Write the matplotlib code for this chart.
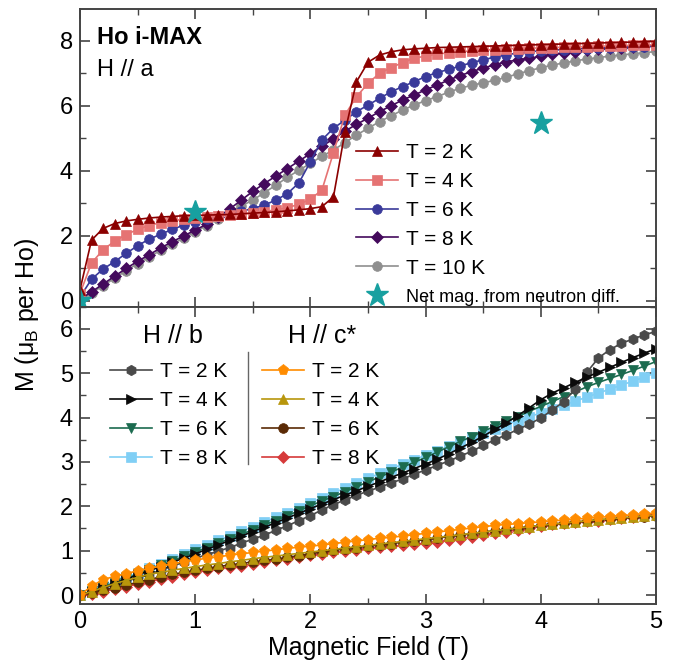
import numpy as np
import matplotlib
matplotlib.use('Agg')
import matplotlib.pyplot as plt
from matplotlib.ticker import MultipleLocator

plt.rcParams['font.family'] = ['Liberation Sans', 'DejaVu Sans']
plt.rcParams['mathtext.fontset'] = 'custom'
plt.rcParams['mathtext.rm'] = 'Liberation Sans'
plt.rcParams['mathtext.it'] = 'Liberation Sans:italic'

# field sweep grid (T)
field = np.linspace(0, 5, 51)

# H // a  (top panel)
a_2K = [0.35, 1.87, 2.23, 2.38, 2.46, 2.51, 2.55, 2.58, 2.60, 2.62, 2.63,
        2.64, 2.65, 2.66, 2.68, 2.70, 2.72, 2.74, 2.77, 2.80, 2.84,
        2.90, 3.20, 5.20, 6.74, 7.34, 7.56, 7.66, 7.72, 7.75, 7.77,
        7.79, 7.80, 7.81, 7.82, 7.83, 7.84, 7.85, 7.86, 7.87, 7.88,
        7.89, 7.90, 7.91, 7.92, 7.93, 7.94, 7.95, 7.96, 7.97, 7.98]
a_4K = [0.23, 1.17, 1.57, 1.84, 2.04, 2.20, 2.32, 2.41, 2.47, 2.51, 2.55,
        2.58, 2.61, 2.64, 2.67, 2.71, 2.75, 2.80, 2.87, 2.97, 3.13,
        3.41, 4.56, 5.72, 6.28, 6.69, 7.00, 7.17, 7.33, 7.46, 7.53,
        7.59, 7.63, 7.66, 7.69, 7.71, 7.73, 7.75, 7.76, 7.77, 7.78,
        7.79, 7.80, 7.81, 7.82, 7.83, 7.84, 7.85, 7.86, 7.87, 7.88]
a_6K = [0.12, 0.67, 0.98, 1.21, 1.46, 1.70, 1.90, 2.05, 2.20, 2.33, 2.43,
        2.53, 2.60, 2.66, 2.76, 2.84, 2.95, 3.10, 3.30, 3.63, 4.28,
        4.95, 5.31, 5.56, 5.82, 6.02, 6.23, 6.43, 6.59, 6.74, 6.90,
        7.02, 7.12, 7.22, 7.33, 7.41, 7.50, 7.57, 7.62, 7.66, 7.69,
        7.71, 7.73, 7.75, 7.76, 7.78, 7.79, 7.80, 7.81, 7.82, 7.83]
a_8K = [0.05, 0.28, 0.52, 0.76, 1.00, 1.22, 1.42, 1.63, 1.82, 2.00, 2.18,
        2.36, 2.58, 2.83, 3.10, 3.37, 3.61, 3.84, 4.07, 4.30, 4.53,
        4.76, 4.98, 5.22, 5.43, 5.62, 5.82, 6.00, 6.18, 6.33, 6.49,
        6.64, 6.79, 6.93, 7.05, 7.16, 7.26, 7.35, 7.41, 7.46, 7.52,
        7.58, 7.63, 7.66, 7.71, 7.74, 7.77, 7.79, 7.81, 7.83, 7.85]
a_10K = [0.00, 0.24, 0.47, 0.70, 0.93, 1.15, 1.35, 1.56, 1.75, 1.93, 2.12,
         2.32, 2.53, 2.74, 2.92, 3.10, 3.33, 3.56, 3.80, 4.02, 4.23,
         4.45, 4.64, 4.87, 5.10, 5.31, 5.51, 5.69, 5.87, 6.02, 6.16,
         6.28, 6.42, 6.54, 6.63, 6.71, 6.78, 6.88, 6.98, 7.08, 7.17,
         7.25, 7.32, 7.38, 7.44, 7.48, 7.53, 7.56, 7.60, 7.63, 7.67]
neutron_field = [0, 1, 4]
neutron_mag = [0.0, 2.72, 5.48]

# H // b  (bottom panel)
b_2K = [0.00, 0.07, 0.15, 0.23, 0.31, 0.39, 0.47, 0.56, 0.65, 0.74, 0.83,
        0.91, 0.99, 1.07, 1.17, 1.26, 1.35, 1.46, 1.56, 1.68, 1.79,
        1.92, 2.04, 2.14, 2.25, 2.34, 2.43, 2.52, 2.62, 2.72, 2.82,
        2.92, 3.02, 3.13, 3.24, 3.37, 3.50, 3.61, 3.73, 3.85, 3.99,
        4.17, 4.36, 4.64, 5.02, 5.34, 5.53, 5.67, 5.77, 5.86, 5.94]
b_4K = [0.00, 0.08, 0.17, 0.26, 0.36, 0.45, 0.55, 0.64, 0.74, 0.83, 0.93,
        1.03, 1.13, 1.23, 1.33, 1.43, 1.53, 1.63, 1.74, 1.84, 1.95,
        2.05, 2.15, 2.25, 2.35, 2.45, 2.55, 2.65, 2.75, 2.85, 2.95,
        3.06, 3.18, 3.31, 3.44, 3.58, 3.73, 3.88, 4.04, 4.22, 4.40,
        4.55, 4.67, 4.79, 4.91, 5.02, 5.13, 5.24, 5.35, 5.45, 5.55]
b_6K = [0.00, 0.09, 0.18, 0.28, 0.38, 0.47, 0.57, 0.67, 0.77, 0.87, 0.97,
        1.07, 1.17, 1.27, 1.37, 1.47, 1.58, 1.68, 1.79, 1.90, 2.01,
        2.12, 2.22, 2.33, 2.44, 2.55, 2.66, 2.77, 2.88, 2.99, 3.10,
        3.22, 3.34, 3.46, 3.57, 3.69, 3.80, 3.91, 4.02, 4.14, 4.25,
        4.36, 4.47, 4.58, 4.69, 4.79, 4.88, 4.97, 5.06, 5.16, 5.26]
b_8K = [0.00, 0.10, 0.20, 0.30, 0.40, 0.50, 0.60, 0.70, 0.81, 0.92, 1.03,
        1.13, 1.23, 1.33, 1.44, 1.54, 1.65, 1.75, 1.86, 1.97, 2.08,
        2.19, 2.30, 2.41, 2.52, 2.63, 2.74, 2.84, 2.95, 3.05, 3.15,
        3.25, 3.35, 3.45, 3.55, 3.65, 3.75, 3.84, 3.93, 4.02, 4.10,
        4.19, 4.28, 4.37, 4.46, 4.55, 4.64, 4.73, 4.82, 4.91, 5.01]

# H // c*  (bottom panel)
c_2K = [0.00, 0.20, 0.35, 0.42, 0.48, 0.55, 0.60, 0.65, 0.70, 0.75, 0.79,
        0.83, 0.86, 0.90, 0.93, 0.96, 0.99, 1.02, 1.05, 1.08, 1.10,
        1.13, 1.16, 1.19, 1.22, 1.25, 1.28, 1.30, 1.33, 1.36, 1.39,
        1.42, 1.45, 1.48, 1.51, 1.54, 1.57, 1.59, 1.61, 1.63, 1.65,
        1.67, 1.69, 1.71, 1.73, 1.75, 1.77, 1.79, 1.81, 1.83, 1.85]
c_4K = [0.00, 0.08, 0.17, 0.26, 0.33, 0.40, 0.47, 0.51, 0.56, 0.60, 0.64,
        0.68, 0.71, 0.75, 0.78, 0.82, 0.85, 0.88, 0.91, 0.94, 0.97,
        1.00, 1.03, 1.06, 1.09, 1.12, 1.15, 1.18, 1.21, 1.24, 1.27,
        1.30, 1.33, 1.36, 1.39, 1.42, 1.45, 1.48, 1.51, 1.54, 1.57,
        1.60, 1.62, 1.65, 1.67, 1.70, 1.72, 1.74, 1.76, 1.78, 1.80]
c_6K = [0.00, 0.05, 0.11, 0.17, 0.22, 0.29, 0.35, 0.41, 0.47, 0.51, 0.56,
        0.60, 0.64, 0.68, 0.71, 0.75, 0.78, 0.81, 0.85, 0.89, 0.93,
        0.97, 1.01, 1.04, 1.07, 1.10, 1.13, 1.16, 1.19, 1.22, 1.25,
        1.28, 1.32, 1.35, 1.38, 1.42, 1.45, 1.48, 1.51, 1.54, 1.57,
        1.60, 1.62, 1.64, 1.67, 1.69, 1.71, 1.73, 1.75, 1.77, 1.79]
c_8K = [0.00, 0.02, 0.08, 0.13, 0.19, 0.25, 0.30, 0.36, 0.41, 0.47, 0.52,
        0.56, 0.60, 0.63, 0.66, 0.70, 0.74, 0.78, 0.82, 0.86, 0.90,
        0.93, 0.96, 0.99, 1.02, 1.05, 1.08, 1.10, 1.12, 1.14, 1.17,
        1.20, 1.23, 1.27, 1.31, 1.35, 1.39, 1.43, 1.47, 1.51, 1.55,
        1.59, 1.62, 1.64, 1.66, 1.68, 1.71, 1.73, 1.76, 1.79, 1.82]

x_ticks = [0, 1, 2, 3, 4, 5]
temp_labels = ['T = 2 K', 'T = 4 K', 'T = 6 K', 'T = 8 K', 'T = 10 K']

SPINE = '#444444'


def curve(ax, y, color, marker, label, ms=7):
    """One M(H) sweep: line with filled markers."""
    line, = ax.plot(field, y, color=color, marker=marker, ms=ms, lw=1.2,
                    mec=color, mew=0.5, label=label)
    return line


def style_axes(ax, ymajor, yminor):
    ax.set_xlim(0, 5)
    ax.xaxis.set_major_locator(MultipleLocator(1))
    ax.xaxis.set_minor_locator(MultipleLocator(0.5))
    ax.yaxis.set_major_locator(MultipleLocator(ymajor))
    ax.yaxis.set_minor_locator(MultipleLocator(yminor))
    ax.tick_params(which='both', direction='in', top=True, right=True,
                   color=SPINE, labelsize=17, pad=5)
    ax.tick_params(which='major', length=7, width=1.2)
    ax.tick_params(which='minor', length=4, width=1.0)
    for s in ax.spines.values():
        s.set_color(SPINE)
        s.set_linewidth(1.4)


fig = plt.figure(figsize=(6.77, 6.71), dpi=100)
ax1 = fig.add_axes([0.1182, 0.5432, 0.8508, 0.4436])
ax2 = fig.add_axes([0.1182, 0.0999, 0.8508, 0.4433])

# ---- top panel: H // a
h10 = curve(ax1, a_10K, '#8f8f8f', 'o', temp_labels[4])
h8 = curve(ax1, a_8K, '#440a5c', 'D', temp_labels[3], ms=6.5)
h6 = curve(ax1, a_6K, '#3a3a9a', 'o', temp_labels[2])
h4 = curve(ax1, a_4K, '#e57373', 's', temp_labels[1], ms=6.5)
h2 = curve(ax1, a_2K, '#8b0000', '^', temp_labels[0], ms=7.5)
hn, = ax1.plot(neutron_field, neutron_mag, ls='none', marker='*', ms=17,
               color='#17a0a0', mec='#17a0a0', label='Net mag. from neutron diff.')

style_axes(ax1, 2, 1)
ax1.set_ylim(-0.17, 8.98)
ax1.tick_params(labelbottom=False)

ax1.text(0.03, 0.905, 'Ho i-MAX', transform=ax1.transAxes, fontsize=17,
         fontweight='bold', va='center', ha='left')
ax1.text(0.03, 0.795, 'H // a', transform=ax1.transAxes, fontsize=17,
         va='center', ha='left')

leg1 = ax1.legend(handles=[h2, h4, h6, h8, h10, hn], loc='upper left',
                  bbox_to_anchor=(0.48, 0.548), frameon=False, fontsize=15,
                  handlelength=2.0, handletextpad=0.4, labelspacing=0.47,
                  borderpad=0, borderaxespad=0)
leg1.get_texts()[5].set_fontsize(13)

# ---- bottom panel: H // b and H // c*
g8 = curve(ax2, b_8K, '#80cff5', 's', 'T = 8 K', ms=6.5)
g6 = curve(ax2, b_6K, '#1b6b4f', 'v', 'T = 6 K', ms=7.5)
g2 = curve(ax2, b_2K, '#4a4a4a', 'h', 'T = 2 K', ms=7.5)
g4 = curve(ax2, b_4K, '#0a0a0a', '>', 'T = 4 K', ms=7)

c8 = curve(ax2, c_8K, '#d63a3a', 'D', 'T = 8 K', ms=6.5)
c6 = curve(ax2, c_6K, '#5a2a05', 'o', 'T = 6 K', ms=7)
c4 = curve(ax2, c_4K, '#b8960c', '^', 'T = 4 K', ms=7.5)
c2 = curve(ax2, c_2K, '#ff8c00', 'p', 'T = 2 K', ms=8)

style_axes(ax2, 1, 0.5)
ax2.set_ylim(-0.2, 6.5)
ax2.set_xticks(x_ticks)
ax2.set_xlabel('Magnetic Field (T)', fontsize=18, labelpad=2)

leg_b = ax2.legend(handles=[g2, g4, g6, g8], loc='upper left',
                   bbox_to_anchor=(0.052, 0.812), frameon=False, fontsize=15,
                   handlelength=2.0, handletextpad=0.4, labelspacing=0.47,
                   borderpad=0, borderaxespad=0)
ax2.add_artist(leg_b)
ax2.legend(handles=[c2, c4, c6, c8], loc='upper left',
           bbox_to_anchor=(0.316, 0.812), frameon=False, fontsize=15,
           handlelength=2.0, handletextpad=0.4, labelspacing=0.47,
           borderpad=0, borderaxespad=0)

ax2.text(0.109, 0.9, 'H // b', transform=ax2.transAxes, fontsize=18,
         va='center', ha='left')
ax2.text(0.361, 0.9, 'H // c*', transform=ax2.transAxes, fontsize=18,
         va='center', ha='left')
ax2.plot([0.291, 0.291], [0.471, 0.846], transform=ax2.transAxes,
         color='#666666', lw=1.0)

fig.text(0.04, 0.53, r'M ($\mathregular{\mu_B}$ per Ho)', rotation=90,
         fontsize=18, va='center', ha='center')

fig.savefig('out.png', dpi=100)
